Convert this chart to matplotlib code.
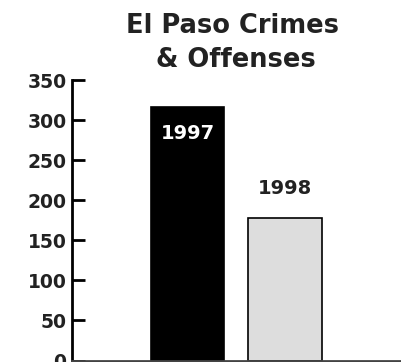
import matplotlib
matplotlib.use("Agg")
import matplotlib.pyplot as plt

# data
years = ["1997", "1998"]
offenses = [316, 178]
bar_colors = ["#000000", "#dddddd"]
label_colors = ["#ffffff", "#222222"]
y_ticks = [0, 50, 100, 150, 200, 250, 300, 350]

text_color = "#222222"
plt.rcParams["font.family"] = ["DejaVu Sans"]
plt.rcParams["font.weight"] = "bold"

fig = plt.figure(figsize=(4.01, 3.62), dpi=100)
ax = fig.add_axes([72 / 401, 1.5 / 362, 1 - 72 / 401, 280.5 / 362])

x = list(range(len(years)))
ax.bar(x, offenses, width=0.75, color=bar_colors, edgecolor="black", linewidth=1.2)

# year labels: inside the first bar, above the second one
ax.text(x[0], offenses[0] - 33, years[0], ha="center", va="center",
        color=label_colors[0], fontsize=14, fontweight="bold")
ax.text(x[1], offenses[1] + 37, years[1], ha="center", va="center",
        color=label_colors[1], fontsize=14, fontweight="bold")

ax.set_xlim(-1.185, 2.19)
ax.set_ylim(0, 350)
ax.set_yticks(y_ticks)
ax.set_xticks([])
ax.tick_params(axis="y", direction="in", length=9, width=2, pad=4,
               labelsize=13.5, labelcolor=text_color)
for lbl in ax.get_yticklabels():
    lbl.set_fontweight("bold")

ax.spines["top"].set_visible(False)
ax.spines["right"].set_visible(False)
ax.spines["left"].set_linewidth(2)
ax.spines["bottom"].set_linewidth(2)
ax.spines["bottom"].set_color("#444444")

fig.text(232 / 401, 1 - 26 / 362, "El Paso Crimes", ha="center", va="center",
         fontsize=18.5, fontweight="bold", color=text_color)
fig.text(236 / 401, 1 - 60 / 362, "& Offenses", ha="center", va="center",
         fontsize=18.5, fontweight="bold", color=text_color)

fig.savefig("out.png", dpi=100)
